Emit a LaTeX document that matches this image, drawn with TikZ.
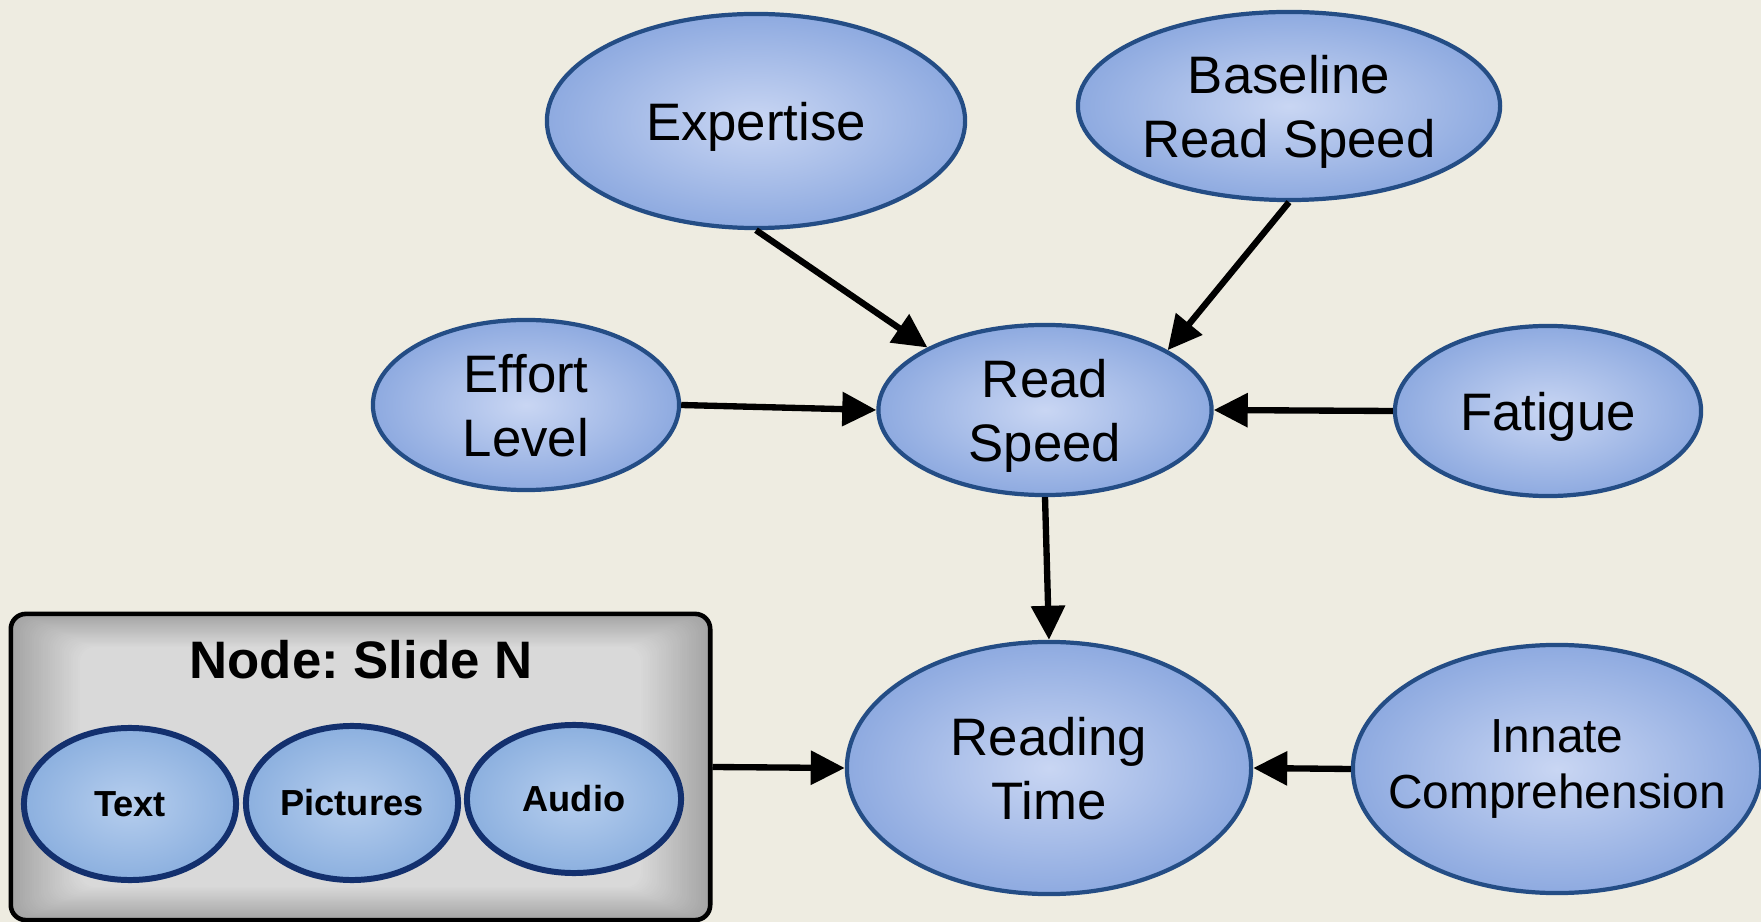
\documentclass[tikz,border=0pt]{standalone}
\usepackage{fontspec}
\setmainfont{Liberation Sans}
\usetikzlibrary{arrows.meta,shapes.geometric}

\definecolor{paper}{HTML}{EEECE1}
\definecolor{factorin}{HTML}{C9D6F3}
\definecolor{factorout}{HTML}{8EAAE0}
\definecolor{factorline}{HTML}{244D85}
\definecolor{partin}{HTML}{B6CEEE}
\definecolor{partout}{HTML}{8CB0DF}
\definecolor{partline}{HTML}{13306E}
\definecolor{boxdark}{HTML}{A4A4A4}
\definecolor{boxlight}{HTML}{D9D9D9}

\begin{document}
\begin{tikzpicture}[
        x=0.01cm, y=-0.01cm,
        font=\fontsize{15}{18.2}\selectfont,
        >={Triangle[length=3.4mm,width=3.3mm]},
        factor/.style={ellipse, draw=factorline, line width=1.2pt, inner color=factorin, outer color=factorout, align=center, inner sep=0pt, text depth=-1.5pt},
        part/.style={ellipse, draw=partline, line width=1.7pt, inner color=partin, outer color=partout, inner sep=0pt, font=\fontsize{10.3}{12}\selectfont\bfseries},
        link/.style={draw=black, line width=1.8pt, ->}
    ]
        \useasboundingbox[fill=paper] (0,0) rectangle (1761,922);

        % slide box with its grey frame gradient
        \foreach \i [evaluate=\i as \p using \i*100/30] in {0,...,30}
            \fill[boxlight!\p!boxdark, rounded corners=0.15cm] ({11+\i*2.3},{614+\i*1.1}) rectangle ({710-\i*2.3},{920-\i*1.1});
        \node[draw=black, line width=1.3pt, rounded corners=0.15cm, minimum width=6.99cm, minimum height=3.06cm] (slide) at (360.5,767) {};
        \node[font=\fontsize{15}{18}\selectfont\bfseries] (title) at (361,660) {Node:\ Slide N};
        \node[part, minimum width=2.12cm, minimum height=1.52cm] (text) at (130,804) {Text};
        \node[part, minimum width=2.12cm, minimum height=1.54cm] (pics) at (352,803) {Pictures};
        \node[part, minimum width=2.14cm, minimum height=1.48cm] (audio) at (574,799) {Audio};

        \node[factor, minimum width=4.18cm, minimum height=2.14cm] (exp) at (756,121) {Expertise};
        \node[factor, minimum width=4.22cm, minimum height=1.88cm] (base) at (1289,106) {Baseline\\Read Speed};
        \node[factor, minimum width=3.06cm, minimum height=1.70cm] (eff) at (526,405) {Effort\\Level};
        \node[factor, minimum width=3.33cm, minimum height=1.70cm] (rs) at (1045,410) {Read\\Speed};
        \node[factor, minimum width=3.06cm, minimum height=1.70cm] (fat) at (1548,411) {Fatigue};
        \node[factor, minimum width=4.04cm, minimum height=2.52cm] (rt) at (1049,768) {Reading\\Time};
        \node[factor, minimum width=4.08cm, minimum height=2.48cm, inner xsep=-3mm, text depth=2.9pt, font=\fontsize{13.6}{16}\selectfont] (inn) at (1557,769) {Innate\\Comprehension};

        \draw[link] (exp.south) -- (rs.152);
        \draw[link] (base.south) -- (rs.26);
        \draw[link] (eff.east) -- (rs.west);
        \draw[link] (fat.west) -- (rs.east);
        \draw[link] (rs.south) -- (rt.north);
        \draw[link] (slide.east) -- (rt.west);
        \draw[link] (inn.west) -- (rt.east);
    \end{tikzpicture}
\end{document}
